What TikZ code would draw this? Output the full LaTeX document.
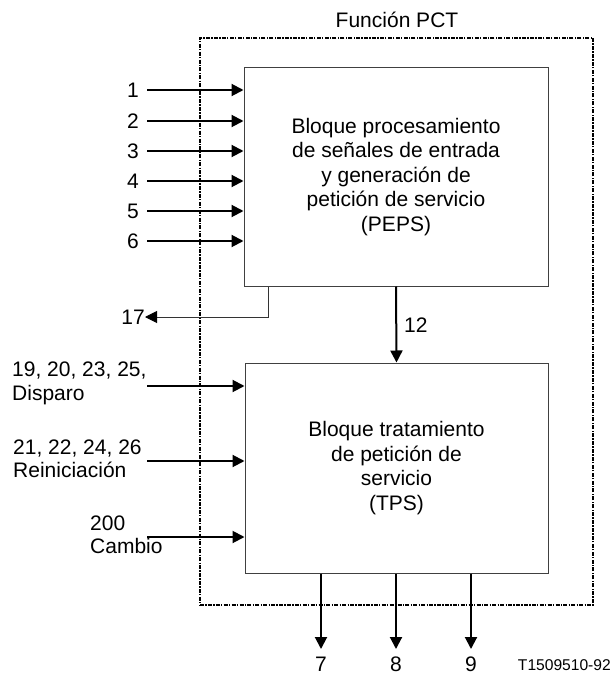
\documentclass[tikz,border=0pt]{standalone}
\usepackage{fontspec}
\setmainfont{Liberation Sans}
\usetikzlibrary{arrows.meta}
\begin{document}
\begin{tikzpicture}[x=1pt,y=-1pt,
  txt/.style={inner sep=0pt,font=\fontsize{21}{24.5}\selectfont},
  block/.style={draw=black!75,line width=1pt,inner sep=0pt,align=center,font=\fontsize{21}{24.5}\selectfont},
  frame/.style={draw=black,line width=1.3pt,dash pattern=on 4pt off 1.3pt on 1.3pt off 1.3pt,inner sep=0pt},
  sig/.style={line width=2pt,-{Triangle[length=12pt,width=12pt]}},
  thinsig/.style={draw=black!80,line width=1pt,-{Triangle[length=12pt,width=12pt,fill=black,color=black]}}]
\useasboundingbox (0,0) rectangle (615,677);
% outer frame
\node[frame,minimum width=393pt,minimum height=567pt] (pct) at (396.5,321.5) {};
\node[txt] (title) at (397,20) {Función PCT};
% blocks
\node[block,minimum width=304pt,minimum height=218pt] (peps) at (396,177)
  {Bloque procesamiento\\de señales de entrada\\y generación de\\petición de servicio\\(PEPS)};
\node[block,minimum width=303pt,minimum height=210pt] (tps) at (396.5,468)
  {Bloque tratamiento\\de petición de\\servicio\\(TPS)};
% inputs to PEPS
\foreach \n/\y in {1/90,2/121,3/151,4/181,5/211,6/241}{
  \coordinate (in\n) at (147,\y);
  \node[txt,anchor=east] (l\n) at (139,\y) {\n};
  \draw[sig] (in\n) -- (peps.west |- in\n);
}
% output 17
\coordinate (c17) at (268,317);
\node[txt,anchor=east] (l17) at (145,317) {17};
\draw[thinsig] (peps.south -| c17) -- (c17) -- (l17.east);
% 12
\draw[sig] (peps.south) -- (tps.north);
\node[txt,anchor=west] (l12) at (404,325) {12};
% inputs to TPS
\coordinate (ia) at (147,386);
\coordinate (ib) at (147,461);
\coordinate (ic) at (147,537);
\draw[sig] (ia) -- (tps.west |- ia);
\draw[sig] (ib) -- (tps.west |- ib);
\draw[sig] (ic) -- (tps.west |- ic);
\node[txt,anchor=west,align=left,font=\fontsize{21}{23.5}\selectfont] (la) at (12,383.5) {19, 20, 23, 25,\\Disparo};
\node[txt,anchor=west,align=left,font=\fontsize{21}{23.5}\selectfont] (lb) at (13,459) {21, 22, 24, 26\\Reiniciación};
\node[txt,anchor=west,align=left,font=\fontsize{21}{23.5}\selectfont] (lc) at (90,535) {200\\Cambio};
% outputs of TPS
\foreach \n/\x in {7/321,8/396,9/471}{
  \coordinate (o\n) at (\x,649);
  \draw[sig] (tps.south -| o\n) -- (o\n);
  \node[txt] (l\n) at (\x,664) {\n};
}
\node[txt,anchor=east,font=\fontsize{15.6}{18}\selectfont] (ref) at (611,665) {T1509510-92};
\end{tikzpicture}
\end{document}
